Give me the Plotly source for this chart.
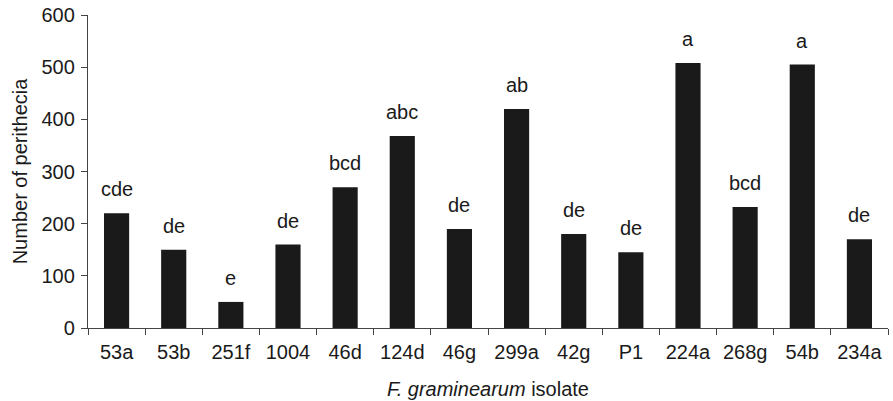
import plotly.graph_objects as go

isolates = ["53a", "53b", "251f", "1004", "46d", "124d", "46g", "299a", "42g", "P1", "224a", "268g", "54b", "234a"]
perithecia = [220, 150, 50, 160, 270, 368, 190, 420, 180, 145, 508, 232, 505, 170]
letters = ["cde", "de", "e", "de", "bcd", "abc", "de", "ab", "de", "de", "a", "bcd", "a", "de"]
y_ticks = [0, 100, 200, 300, 400, 500, 600]

FONT = "Liberation Sans, Arial, Helvetica, sans-serif"
INK = "#1a1a1a"
FS = 20

fig = go.Figure()
fig.add_trace(go.Bar(
    x=isolates, y=perithecia, width=0.44,
    marker=dict(color=INK, line=dict(width=0)),
    showlegend=False,
))

for i, (v, lab) in enumerate(zip(perithecia, letters)):
    fig.add_annotation(x=i, y=v, text=lab, showarrow=False,
                       xref="x", yref="y",
                       yanchor="bottom", yshift=11,
                       font=dict(family=FONT, size=FS, color=INK))

fig.update_layout(
    width=893, height=401,
    margin=dict(l=88, r=5, t=15, b=73),
    plot_bgcolor="white", paper_bgcolor="white",
    font=dict(family=FONT, size=FS, color=INK),
)
fig.update_xaxes(
    type="category", range=[-0.5, 13.5],
    showline=True, linecolor="#444", linewidth=1.3,
    ticks="outside", tickson="boundaries", ticklen=6, tickcolor="#444", tickwidth=1.3,
    ticklabelstandoff=6,
    showgrid=False, zeroline=False,
    tickfont=dict(family=FONT, size=FS, color=INK),
    title=dict(text="<i>F. graminearum</i> isolate", font=dict(family=FONT, size=FS, color=INK), standoff=19),
)
fig.update_yaxes(
    range=[0, 600], tickvals=y_ticks,
    showline=True, linecolor="#444", linewidth=1.3,
    ticks="outside", ticklen=6, tickcolor="#444", tickwidth=1.3,
    ticklabelstandoff=2,
    showgrid=False, zeroline=False,
    tickfont=dict(family=FONT, size=FS, color=INK),
    title=dict(text="Number of perithecia", font=dict(family=FONT, size=FS, color=INK), standoff=8),
)

fig.write_html("out.html")
